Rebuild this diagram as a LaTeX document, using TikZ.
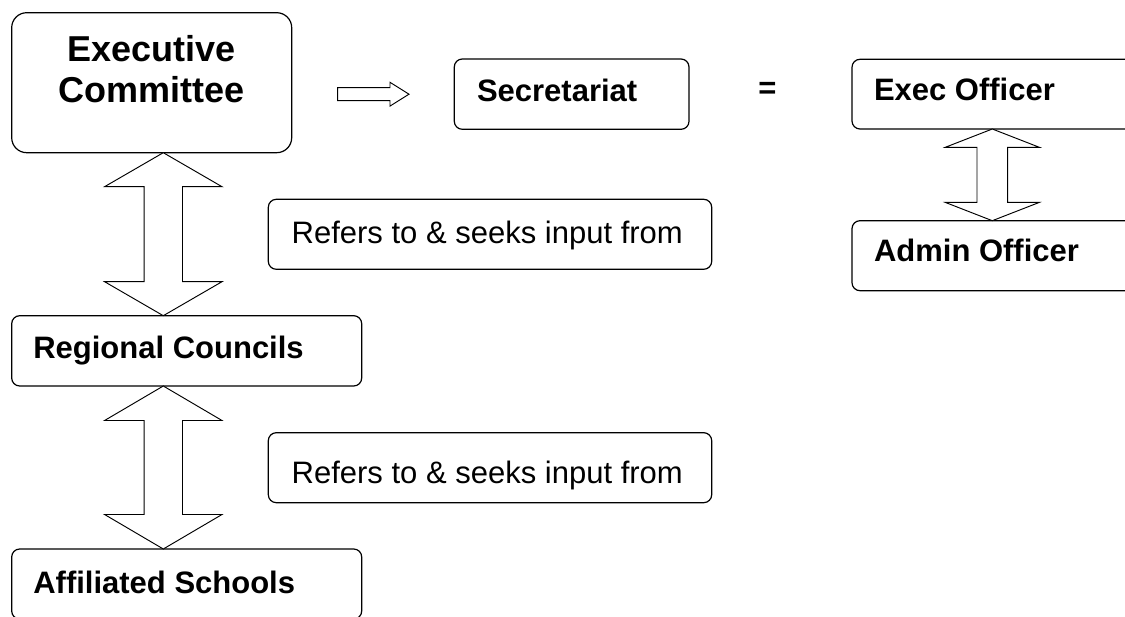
\documentclass[tikz,border=0pt]{standalone}
\usepackage{fontspec}
\setmainfont{Liberation Sans}
\usetikzlibrary{calc}
\tikzset{
  box/.style={draw, line width=1.2pt, rounded corners=8pt, inner sep=0pt, outer sep=0pt, anchor=north west},
  bigbox/.style={box, rounded corners=15pt},
  lbl/.style={inner sep=0pt, outer sep=0pt, anchor=base west, font=\bfseries\fontsize{31}{37}\selectfont},
  plain/.style={inner sep=0pt, outer sep=0pt, anchor=base west, font=\fontsize{31}{37}\selectfont},
  title/.style={inner sep=0pt, outer sep=0pt, anchor=base, font=\bfseries\fontsize{36}{41}\selectfont},
  arrowshape/.style={draw, line width=0.95pt, fill=white, line join=miter}
}
\newcommand\vdarrow[5]{% top, bottom, head half width, shaft half width, head length
  \draw[arrowshape] (#1) -- ($(#1)+(#3,#5)$) -- ($(#1)+(#4,#5)$) -- ($(#2)+(#4,-#5)$)
    -- ($(#2)+(#3,-#5)$) -- (#2) -- ($(#2)+(-#3,-#5)$) -- ($(#2)+(-#4,-#5)$)
    -- ($(#1)+(-#4,#5)$) -- ($(#1)+(-#3,#5)$) -- cycle;}
\begin{document}
\begin{tikzpicture}[x=1pt,y=-1pt]
\clip (0,0) rectangle (1125,617);
\fill[white] (0,0) rectangle (1125,617);
% boxes
\node[bigbox, minimum width=280pt, minimum height=140pt] (ec) at (11.7,12.7) {};
\node[box, minimum width=234.7pt, minimum height=70.3pt] (sec) at (454.3,59) {};
\node[box, minimum width=300pt, minimum height=69.7pt] (exo) at (852,59.3) {};
\node[box, minimum width=300pt, minimum height=70pt] (adm) at (852,220.7) {};
\node[box, minimum width=443.4pt, minimum height=70pt] (ref1) at (268.3,199.3) {};
\node[box, minimum width=350pt, minimum height=70.3pt] (rc) at (11.7,315.7) {};
\node[box, minimum width=443.4pt, minimum height=70pt] (ref2) at (268.3,432.7) {};
\node[box, minimum width=350pt, minimum height=70pt] (as) at (11.7,549) {};
% texts
\node[title] (ect1) at (151.7,62) {Executive};
\node[title] (ect2) at (151.7,103) {Committee};
\node[lbl] (sect) at (477,101.7) {Secretariat};
\node[lbl] (exot) at (874,101) {Exec Officer};
\node[lbl] (admt) at (874,261.7) {Admin Officer};
\node[plain] (ref1t) at (291.7,243.3) {Refers to \& seeks input from};
\node[lbl] (rct) at (33.3,358.3) {Regional Councils};
\node[plain] (ref2t) at (291.7,483.3) {Refers to \& seeks input from};
\node[lbl] (ast) at (33.3,593.3) {Affiliated Schools};
\node[inner sep=0pt, anchor=base, font=\bfseries\fontsize{31}{37}\selectfont] (eq) at (767.5,98.5) {=};
% connectors
\coordinate (x1) at (163.3,0);
\coordinate (x3) at (992.3,0);
\coordinate (ht) at (337.7,94.2);
\coordinate (hh) at (409,94.2);
\vdarrow{ec.south -| x1}{rc.north -| x1}{58.7}{19.2}{34}
\vdarrow{rc.south -| x1}{as.north -| x1}{58.7}{19.2}{34.5}
\vdarrow{exo.south -| x3}{adm.north -| x3}{47}{15.3}{18.3}
\draw[arrowshape] (ht) -- ++(0,-6.5) -- ($(hh)+(-19,-6.5)$) -- ($(hh)+(-19,-11.9)$) -- (hh)
  -- ($(hh)+(-19,11.9)$) -- ($(hh)+(-19,6.5)$) -- ($(ht)+(0,6.5)$) -- cycle;
\end{tikzpicture}
\end{document}
